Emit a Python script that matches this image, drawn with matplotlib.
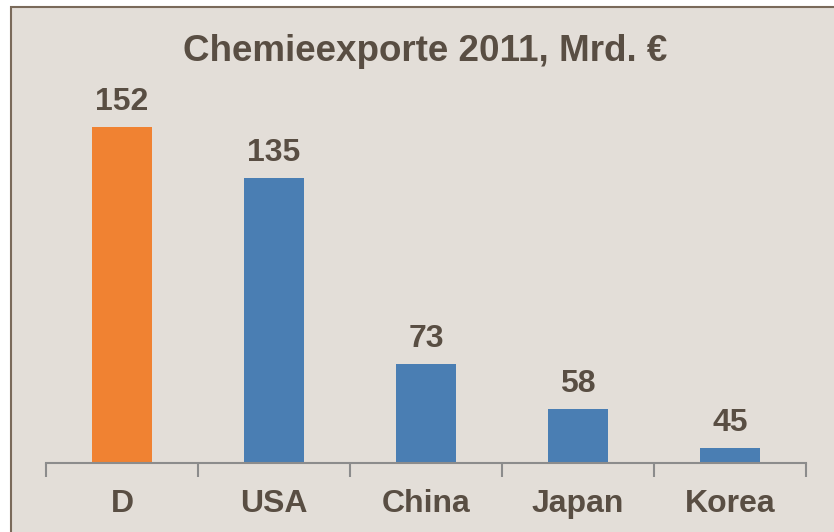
import matplotlib.pyplot as plt
from matplotlib.patches import Rectangle

# data
countries = ["D", "USA", "China", "Japan", "Korea"]
exports = [152, 135, 73, 58, 45]
bar_colors = ["#F08232", "#4A7EB3", "#4A7EB3", "#4A7EB3", "#4A7EB3"]

bg = "#E3DED8"
txt = "#594E43"
W, H = 834, 532

fig = plt.figure(figsize=(W / 100, H / 100), dpi=100)
fig.patch.set_facecolor("white")
# framed panel (left/top edge visible, right/bottom run off the image)
fig.patches.append(Rectangle((10.5 / W, -0.05), 1.1, 1 - 6.5 / H + 0.05,
                             transform=fig.transFigure, facecolor=bg,
                             edgecolor="#7A6A5A", linewidth=1.5, zorder=-5))

ax = fig.add_axes([46 / W, 69 / H, 760 / W, 405 / H])
ax.set_zorder(1)
ax.set_facecolor("none")
x = range(len(countries))
ax.bar(x, exports, width=0.4, bottom=0, color=bar_colors, zorder=2)
ax.set_ylim(40, 175)
ax.set_xlim(-0.5, len(countries) - 0.5)

# value labels above bars
for xi, v in zip(x, exports):
    ax.annotate(str(v), (xi, v), xytext=(0, 12), textcoords="offset points",
                ha="center", va="baseline", fontsize=23, fontweight="bold",
                color=txt, family="Liberation Sans")

# category labels below axis
for xi, c in zip(x, countries):
    ax.annotate(c, (xi, 0), xycoords=("data", "axes fraction"),
                xytext=(0, -35.5), textcoords="offset points",
                ha="center", va="baseline", fontsize=23, fontweight="bold",
                color=txt, family="Liberation Sans")

for s in ["top", "right", "left"]:
    ax.spines[s].set_visible(False)
ax.spines["bottom"].set_color("#8C8C8C")
ax.spines["bottom"].set_linewidth(1.5)
ax.set_yticks([])
ax.set_xticks([i - 0.5 for i in range(len(countries) + 1)])
ax.set_xticklabels([])
ax.tick_params(axis="x", length=10, width=1.5, color="#8C8C8C")

fig.text(425.5 / W, 1 - 61 / H, "Chemieexporte 2011, Mrd. €", ha="center",
         va="baseline", fontsize=26.5, fontweight="bold", color=txt,
         family="Liberation Sans")

fig.savefig("out.png", dpi=100)
